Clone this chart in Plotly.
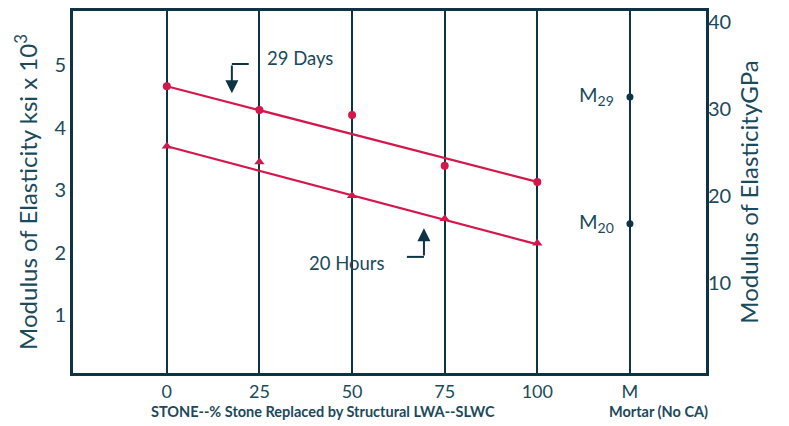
import plotly.graph_objects as go

# ---- data ----
pct = [0, 25, 50, 75, 100]
days29 = [4.66, 4.28, 4.20, 3.39, 3.13]
hours20 = [3.70, 3.45, 2.91, 2.54, 2.15]
trend_x = [0, 100]
trend29 = [4.66, 3.13]
trend20 = [3.70, 2.13]
mortar_x = [125, 125]
mortar_vals = [4.49, 2.46]
mortar_labels = ["M<sub>29</sub>", "M<sub>20</sub>"]
tick_vals = [0, 25, 50, 75, 100, 125]
tick_text = ["0", "25", "50", "75", "100", "M"]
left_ticks = [1, 2, 3, 4, 5]
right_ticks = [10, 20, 30, 40]

DARK = "#0e3344"
TEXT = "#1b4a5c"
RED = "#d3184c"
FONT = "Lato"

fig = go.Figure()

fig.add_trace(go.Scatter(x=trend_x, y=trend29, mode="lines",
                         line=dict(color=RED, width=2.2), showlegend=False, hoverinfo="skip"))
fig.add_trace(go.Scatter(x=trend_x, y=trend20, mode="lines",
                         line=dict(color=RED, width=2.2), showlegend=False, hoverinfo="skip"))
fig.add_trace(go.Scatter(x=pct, y=days29, mode="markers",
                         marker=dict(color=RED, size=8, symbol="circle"), showlegend=False))
fig.add_trace(go.Scatter(x=pct, y=hours20, mode="markers",
                         marker=dict(color=RED, size=9, symbol="triangle-up"), showlegend=False))
fig.add_trace(go.Scatter(x=mortar_x, y=mortar_vals, mode="markers",
                         marker=dict(color=DARK, size=7, symbol="circle"), showlegend=False))
# invisible trace for right axis
fig.add_trace(go.Scatter(x=[125], y=[20], yaxis="y2", mode="markers",
                         marker=dict(opacity=0), showlegend=False, hoverinfo="skip"))

annotations = []
for xv, yv, lab in zip(mortar_x, mortar_vals, mortar_labels):
    annotations.append(dict(x=xv, y=yv, xref="x", yref="y", text=lab, showarrow=False,
                            xanchor="right", xshift=-14, yshift=1,
                            font=dict(family=FONT, size=20, color=TEXT)))

annotations.append(dict(x=26.5, y=5.11, xref="x", yref="y", text="29 Days", showarrow=False,
                        xanchor="left", font=dict(family=FONT, size=18.5, color=TEXT)))
annotations.append(dict(x=37.8, y=1.83, xref="x", yref="y", text="20 Hours", showarrow=False,
                        xanchor="left", font=dict(family=FONT, size=18.5, color=TEXT)))
# bent arrows: vertical parts with arrowheads
annotations.append(dict(x=17.55, y=4.55, ax=17.55, ay=5.016, xref="x", yref="y",
                        axref="x", ayref="y", showarrow=True, arrowhead=2, arrowsize=1.3,
                        arrowwidth=2, arrowcolor=DARK, text=""))
annotations.append(dict(x=69.4, y=2.39, ax=69.4, ay=1.93, xref="x", yref="y",
                        axref="x", ayref="y", showarrow=True, arrowhead=2, arrowsize=1.3,
                        arrowwidth=2, arrowcolor=DARK, text=""))

annotations.append(dict(x=(323 - 72) / 635, y=-(411 - 374) / 364, xref="paper", yref="paper",
                        text="<b>STONE--% Stone Replaced by Structural LWA--SLWC</b>",
                        showarrow=False, font=dict(family=FONT, size=14.5, color=TEXT),
                        yanchor="middle"))
annotations.append(dict(x=1.0, y=-(411 - 374) / 364, xref="paper", yref="paper",
                        text="<b>Mortar (No CA)</b>", xanchor="right", xshift=3,
                        showarrow=False, font=dict(family=FONT, size=14.5, color=TEXT),
                        yanchor="middle"))

shapes = [
    dict(type="line", xref="x", yref="y", x0=22.1, x1=17.55, y0=5.016, y1=5.016,
         line=dict(color=DARK, width=2)),
    dict(type="line", xref="x", yref="y", x0=64.8, x1=69.4, y0=1.93, y1=1.93,
         line=dict(color=DARK, width=2)),
    dict(type="rect", xref="paper", yref="paper", x0=0, x1=1, y0=0, y1=1,
         line=dict(color=DARK, width=2), layer="above"),
]

# page body has an 8px margin, so figure is sized/placed to compensate
fig.update_layout(
    width=781, height=418,
    margin=dict(l=64, r=82, t=2, b=52, autoexpand=False),
    plot_bgcolor="white", paper_bgcolor="white",
    font=dict(family=FONT, color=TEXT),
    annotations=annotations, shapes=shapes,
    xaxis=dict(range=[-25.6, 145.8], tickvals=tick_vals, ticktext=tick_text,
               showgrid=True, gridcolor=DARK, gridwidth=2, zeroline=False,
               showline=True, linecolor=DARK, linewidth=2, mirror=True, automargin=False,
               ticks="", ticklen=0, tickfont=dict(size=18, color=TEXT, family=FONT)),
    yaxis=dict(range=[0.056, 5.88], tickvals=left_ticks, showgrid=False, zeroline=False,
               showline=True, linecolor=DARK, linewidth=2, mirror=True, ticks="",
               automargin=False,
               tickfont=dict(size=20, color=TEXT, family=FONT),
               title=dict(text="Modulus of Elasticity ksi x 10<sup>3</sup>",
                          font=dict(size=24, color=TEXT, family=FONT), standoff=10)),
    yaxis2=dict(range=[-0.46, 41.38], tickvals=right_ticks, overlaying="y", side="right",
                showgrid=False, zeroline=False, showline=False, ticks="", automargin=False,
                tickfont=dict(size=20, color=TEXT, family=FONT),
                title=dict(text="Modulus of ElasticityGPa",
                           font=dict(size=24, color=TEXT, family=FONT), standoff=10)),
)

fig.write_html("out.html")
